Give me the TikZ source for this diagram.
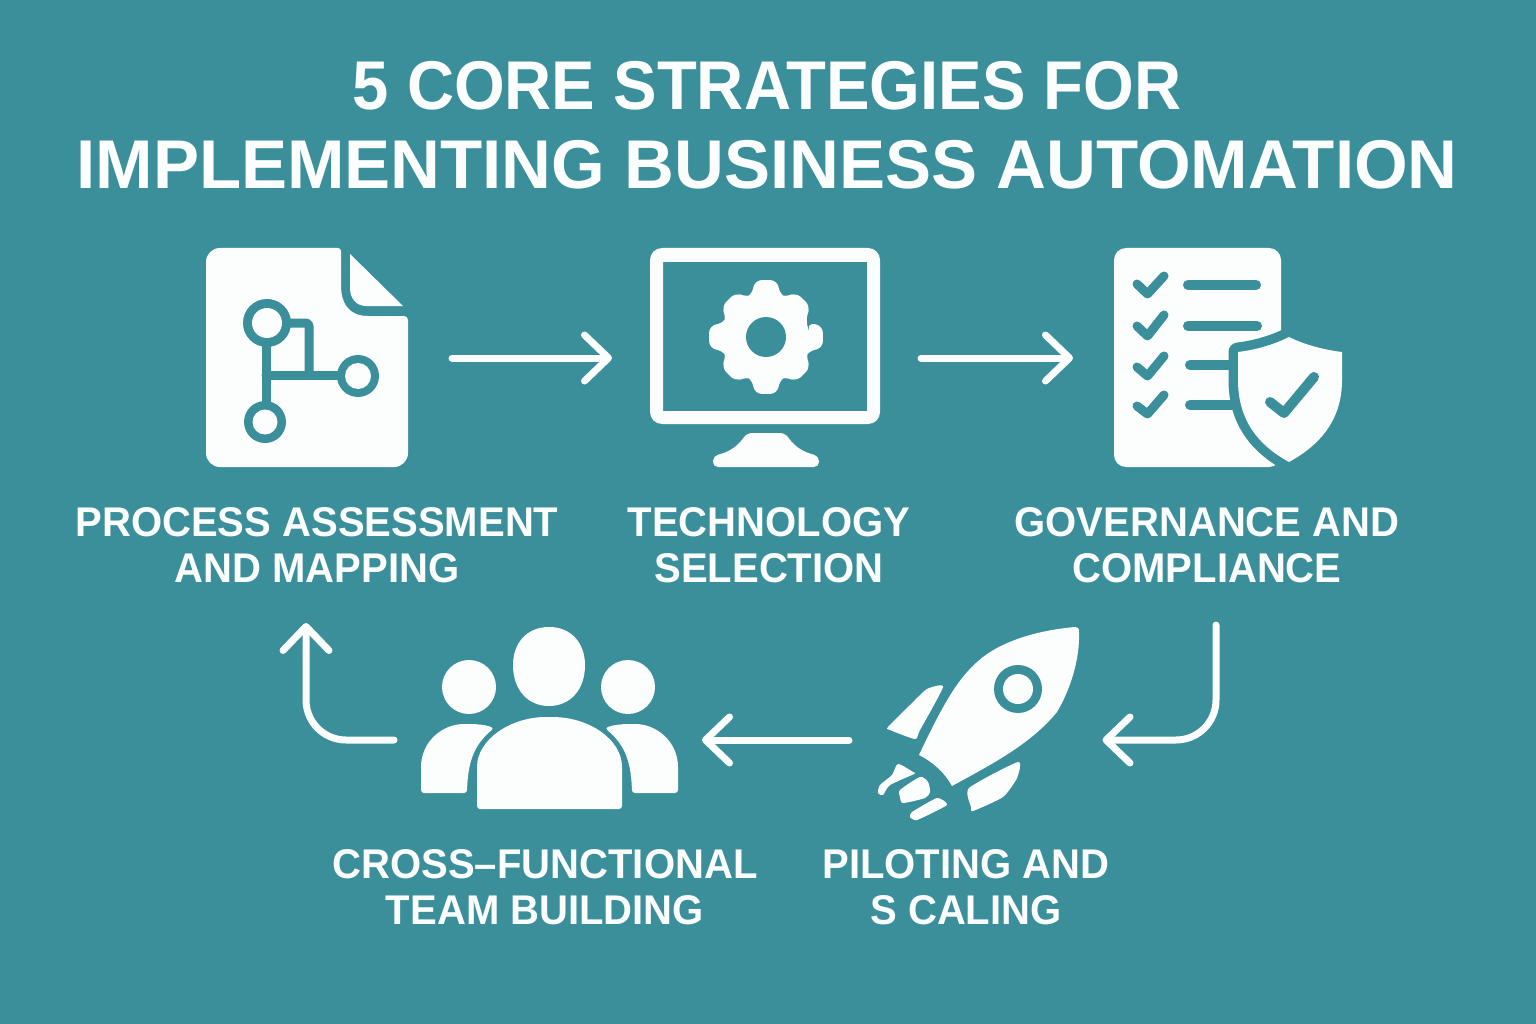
\documentclass[tikz,border=0pt]{standalone}
\usepackage{fontspec}
\setmainfont{Liberation Sans}
\usepackage{xcolor}
\usetikzlibrary{arrows.meta}
\definecolor{tealbg}{HTML}{3A8F9B}
\definecolor{iconwhite}{HTML}{FBFEFD}

\begin{document}
\begin{tikzpicture}[x=1pt,y=-1pt]
        \tikzset{headline/.style={text=iconwhite,align=center,font=\fontsize{69}{79}\selectfont\bfseries},
            caption/.style={text=iconwhite,align=center,font=\fontsize{41.5}{46}\selectfont\bfseries\addfontfeature{FakeStretch=0.965}},
            iconslot/.style={inner sep=0pt,outer sep=0pt,minimum height=220pt},
            flow/.style={draw=iconwhite,line width=7pt,line cap=round,rounded corners=40pt,
                -{Straight Barb[length=24pt,width=46pt,line cap=round,round]}},
            cut/.style={draw=tealbg,line cap=round,line join=round},
            blank/.style={fill=iconwhite}}
        \useasboundingbox (0,0) rectangle (1536,1024);
        \fill[tealbg] (0,0) rectangle (1536,1024);

        \node[headline] (title) at (767,125) {{\addfontfeature{FakeStretch=0.945}5 CORE STRATEGIES FOR}\\IMPLEMENTING BUSINESS AUTOMATION};

        \node[iconslot,minimum width=290pt] (mapping) at (307,358) {};
        \node[iconslot,minimum width=309pt] (tech) at (766.5,358) {};
        \node[iconslot,minimum width=310pt] (governance) at (1228,358) {};
        \node[iconslot,minimum width=253.5pt] (pilot) at (975.75,740) {};
        \node[iconslot,minimum width=308pt] (team) at (548,740) {};
        \coordinate (govout) at (1216,625);
        \coordinate (mapin) at (306,623);

        \node[caption] (mappinglabel) at (317,545) {PROCESS ASSESSMENT\\AND MAPPING};
        \node[caption] (techlabel) at (769,545) {TECHNOLOGY\\SELECTION};
        \node[caption] (governancelabel) at (1207,545) {GOVERNANCE AND\\COMPLIANCE};
        \node[caption] (teamlabel) at (545,887) {CROSS--FUNCTIONAL\\TEAM BUILDING};
        \node[caption] (pilotlabel) at (966,887) {PILOTING AND\\S CALING};

        \draw[flow] (mapping.east) -- (tech.west);
        \draw[flow] (tech.east) -- (governance.west);
        \draw[flow] (govout) |- (pilot.east);
        \draw[flow] (pilot.west) -- (team.east);
        \draw[flow] (team.west) -| (mapin);

        % document with flow chart
        \fill[blank,rounded corners=14pt] (206,248) [rounded corners=3pt] -- (341,248) [sharp corners] -- (341,285)
            .. controls (341,305) and (350,316) .. (368,316) [rounded corners=4pt] -- (408,316)
            [rounded corners=14pt] -- (408,467) -- (206,467) -- cycle;
        \fill[blank] (350,254) -- (403,306) -- (366,306) .. controls (356,306) and (350,298) .. (350,288) -- cycle;
        \draw[cut,line width=9pt,rounded corners=3pt] (267,323) -- (309,323) -- (309,375);
        \draw[cut,line width=9pt] (266,323) -- (266,422) (266,375) -- (358,375);
        \fill[tealbg] (267,323) circle[radius=24] (358,376) circle[radius=21] (265,422) circle[radius=21];
        \fill[blank] (267,323) circle[radius=15] (358,376) circle[radius=13] (265,422) circle[radius=12.5];

        % monitor with gear
        \fill[blank,even odd rule] [rounded corners=12pt] (650,248) rectangle (880,424)
            [sharp corners] (663,262) rectangle (867,411);
        \fill[blank,rounded corners=5pt] (766,433) -- (785,433) .. controls (795,447) and (803,452) .. (819,456)
            -- (819,467) -- (713,467) -- (713,456) .. controls (729,452) and (737,447) .. (747,433) -- cycle;
        \fill[blank,rounded corners=7pt,shift={(766,337)}] (0:44)
            \foreach \ang/\len in {0/58,45/54,90/58,135/54,180/58,225/54,270/58,315/54}
                { -- (\ang-19:44) -- (\ang-11:\len) -- (\ang+11:\len) -- (\ang+19:44) } -- cycle;
        \fill[tealbg] (766,337) circle[radius=20];

        % checklist with shield
        \fill[blank,rounded corners=12pt] (1114,248) rectangle (1281,467);
        \foreach \ya/\yb/\yc in {284/294/276,326/336/315,367/376/356,406/414/395}
            \draw[cut,line width=9pt] (1137,\ya) -- (1147.5,\yb) -- (1164,\yc);
        \draw[cut,line width=10pt] (1188,285) -- (1256,285) (1188,326) -- (1257,326)
            (1190,365) -- (1232,365) (1190,405) -- (1232,405);
        \fill[blank,preaction={draw=tealbg,line width=19pt,line join=round}]
            (1289,337) .. controls (1305,345) and (1325,350) .. (1342,352) -- (1342,380)
            .. controls (1342,420) and (1320,445) .. (1289,462) .. controls (1258,445) and (1238,420) .. (1238,380)
            -- (1238,352) .. controls (1255,350) and (1273,345) .. (1289,337) -- cycle;
        \draw[cut,line width=10pt] (1270,402) -- (1284,413) -- (1314,377);

        % rocket
        \fill[blank] (1075,627) .. controls (1040,630) and (1005,640) .. (983,657)
            .. controls (960,675) and (945,700) .. (919,755) .. controls (933,762) and (945,773) .. (952,786)
            .. controls (990,765) and (1030,745) .. (1057,712) .. controls (1070,690) and (1080,660) .. (1079,632)
            .. controls (1079,628) and (1078,627) .. (1075,627) -- cycle;
        \fill[tealbg] (1018,689) circle[radius=24];
        \fill[blank] (1018,689) circle[radius=15];
        \fill[blank] plot[smooth cycle,tension=0.35] coordinates {(943,687) (927,689) (910,705) (888,727) (890,730) (915,739) (920,730)};
        \fill[blank] plot[smooth cycle,tension=0.35] coordinates {(1018,762) (969,788) (971,807) (973,811) (1003,797) (1017,778)};
        \fill[blank] plot[smooth cycle,tension=0.4] coordinates {(898,764) (913,772) (914,774) (890,785) (883,795) (878,793) (880,785) (892,775)};
        \fill[blank] plot[smooth cycle,tension=0.4] coordinates {(900,790) (920,777) (928,782) (930,792) (925,798) (903,803) (900,797)};
        \fill[blank] plot[smooth cycle,tension=0.3] coordinates {(912,812) (937,798) (947,805) (917,820) (910,817)};

        % three people
        \fill[blank] (549,627) .. controls (572,627) and (585,644) .. (585,665) .. controls (585,690) and (570,706) .. (549,706)
            .. controls (528,706) and (513,690) .. (513,665) .. controls (513,644) and (526,627) .. (549,627) -- cycle;
        \fill[blank] (469,687) circle[radius=27] (628,687) circle[radius=27];
        \fill[blank,rounded corners=3pt] (477,809) -- (477,770) .. controls (477,740) and (510,717) .. (549,717)
            .. controls (590,717) and (622,740) .. (622,770) -- (622,809) -- cycle;
        \fill[blank,rounded corners=3pt] (421,793) -- (421,770) .. controls (421,742) and (442,724) .. (467,724)
            .. controls (477,724) and (486,725) .. (494,728) .. controls (478,742) and (468,755) .. (467,793) -- cycle;
        \fill[blank,rounded corners=3pt] (678,793) -- (678,770) .. controls (678,742) and (657,724) .. (632,724)
            .. controls (622,724) and (613,725) .. (605,728) .. controls (621,742) and (631,755) .. (632,793) -- cycle;
    \end{tikzpicture}
\end{document}
